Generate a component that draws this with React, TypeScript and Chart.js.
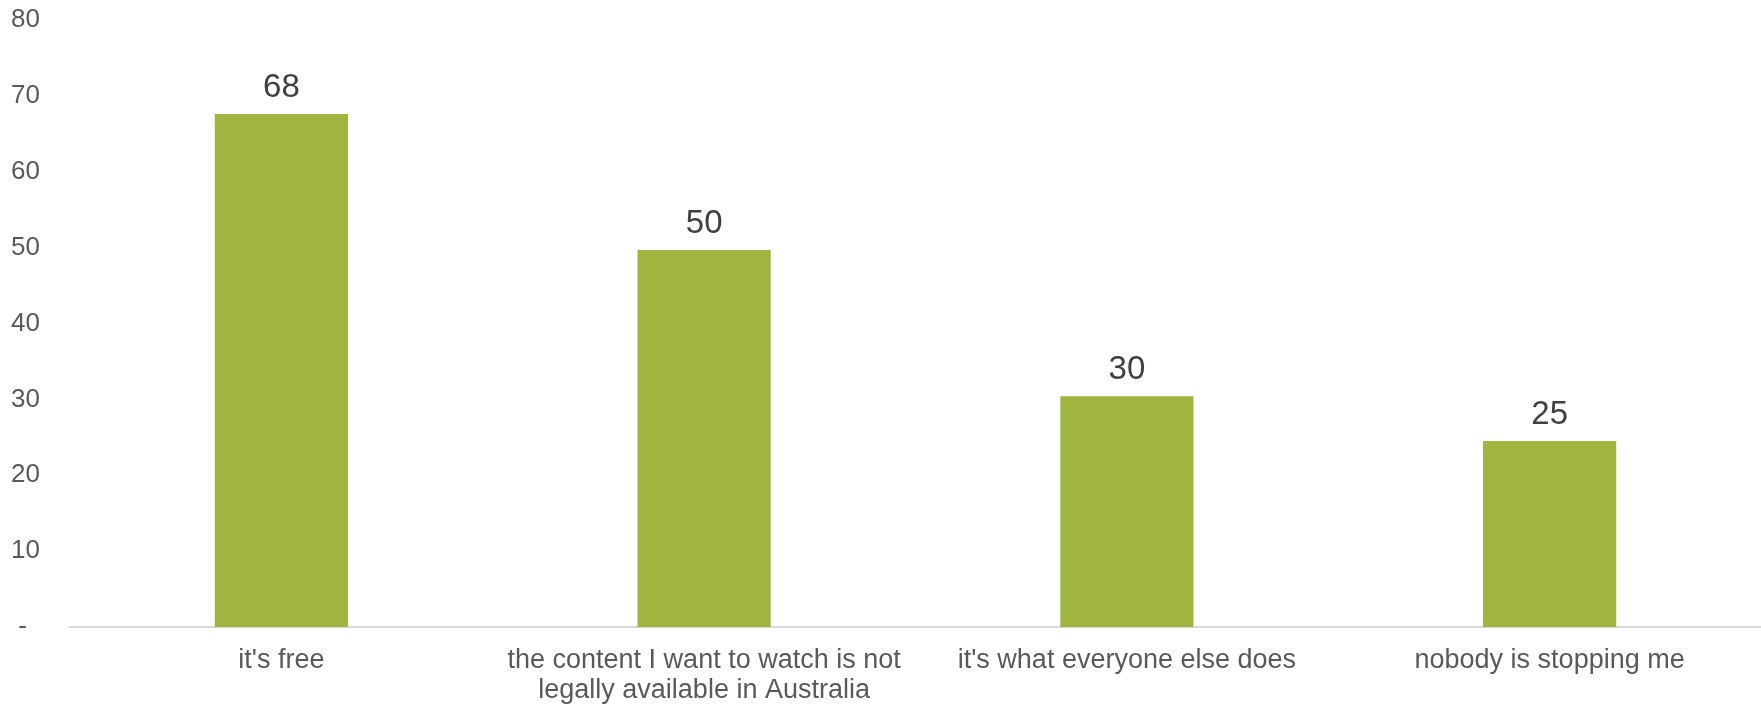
import React, { useEffect, useRef } from "react";
import { Chart, registerables } from "chart.js";

Chart.register(...registerables);

const categories: (string | string[])[] = [
  "it's free",
  ["the content I want to watch is not", "legally available in Australia"],
  "it's what everyone else does",
  "nobody is stopping me",
];
const values: number[] = [67.6, 49.7, 30.4, 24.5];
const yTicks: number[] = [0, 10, 20, 30, 40, 50, 60, 70, 80];

const FONT = "'Liberation Sans', Arial, sans-serif";

const dataLabelPlugin = {
  id: "dataLabels",
  afterDatasetsDraw(chart: any) {
    const ctx = chart.ctx;
    const meta = chart.getDatasetMeta(0);
    ctx.save();
    ctx.font = `33px ${FONT}`;
    ctx.fillStyle = "#404040";
    ctx.textAlign = "center";
    ctx.textBaseline = "middle";
    meta.data.forEach((bar: any, i: number) => {
      const v = chart.data.datasets[0].data[i] as number;
      ctx.fillText(String(Math.round(v)), bar.x, bar.y - 26);
    });
    ctx.restore();
  },
};

export default function App() {
  const ref = useRef<HTMLCanvasElement | null>(null);
  useEffect(() => {
    document.body.style.margin = "0";
    const chart = new Chart(ref.current as HTMLCanvasElement, {
      type: "bar",
      data: {
        labels: categories,
        datasets: [
          {
            data: values,
            backgroundColor: "#9FB540",
            categoryPercentage: 1,
            barPercentage: 0.315,
          },
        ],
      },
      options: {
        animation: false,
        responsive: false,
        maintainAspectRatio: false,
        layout: { padding: { top: 20, right: 0, left: 11, bottom: 0 } },
        plugins: { legend: { display: false }, tooltip: { enabled: false } },
        scales: {
          x: {
            grid: { display: false },
            border: { display: true, color: "#D9D9D9", width: 2 },
            ticks: {
              color: "#595959",
              font: { family: FONT, size: 27, lineHeight: 1.1 },
              padding: 11,
              maxRotation: 0,
              autoSkip: false,
            },
            afterFit(scale: any) {
              scale.height = 77;
            },
          },
          y: {
            min: 0,
            max: 80,
            afterBuildTicks(scale: any) {
              scale.ticks = yTicks.map((v) => ({ value: v }));
            },
            grid: { display: false },
            border: { display: false },
            ticks: {
              color: "#595959",
              font: { family: FONT, size: 26 },
              crossAlign: "far",
              padding: 0,
              callback: (v: any) => (Number(v) === 0 ? " -" : String(v)),
            },
            afterFit(scale: any) {
              scale.width = 59;
            },
          },
        },
      },
      plugins: [dataLabelPlugin],
    });
    return () => chart.destroy();
  }, []);
  return (
    <div style={{ width: 1761, height: 704 }}>
      <canvas ref={ref} width={1761} height={704} style={{ display: "block" }} />
    </div>
  );
}
